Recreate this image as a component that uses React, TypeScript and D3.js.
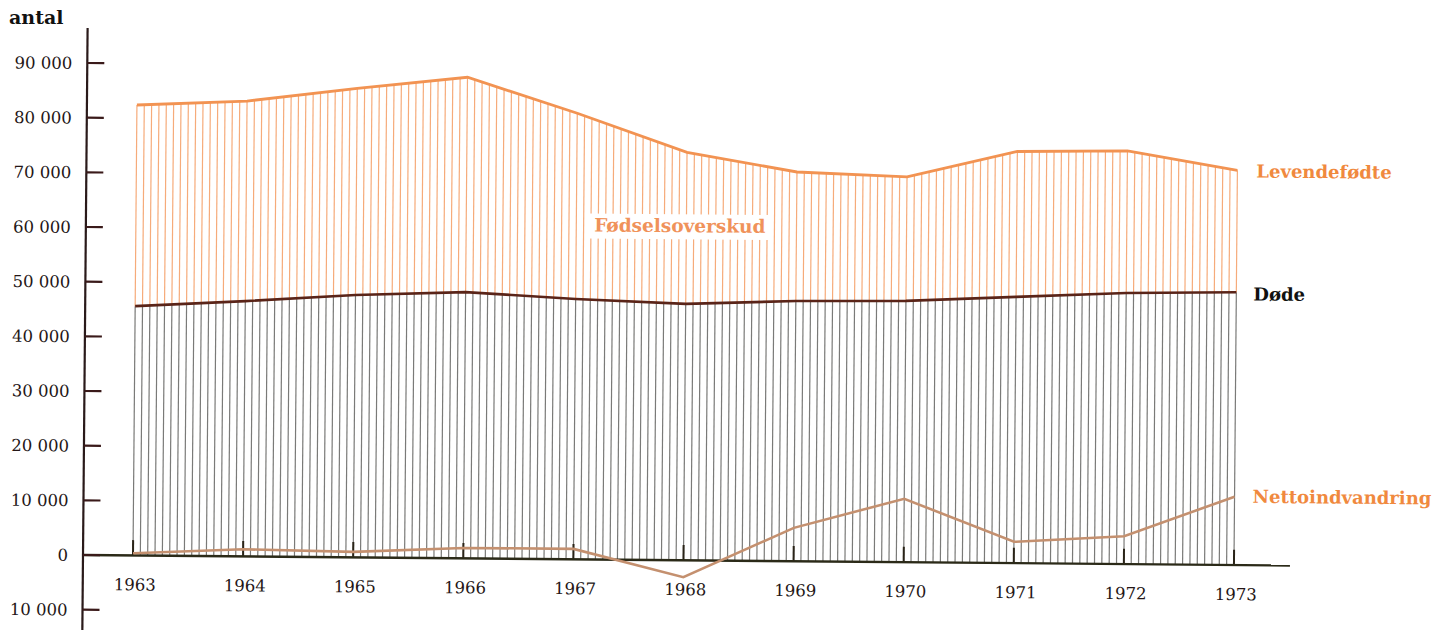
import React from "react";
import * as d3 from "d3";

const years = [1963, 1964, 1965, 1966, 1967, 1968, 1969, 1970, 1971, 1972, 1973];
const births = [82400, 83300, 85800, 88000, 81600, 74600, 71200, 70500, 75300, 75600, 72200];
const deaths = [45600, 46700, 48000, 48700, 47600, 46900, 47600, 47800, 48700, 49600, 49900];
const netMigration = [400, 1300, 1000, 1900, 1900, -3100, 6100, 11600, 3900, 5100, 12500];
const yTicks = [-10000, 0, 10000, 20000, 30000, 40000, 50000, 60000, 70000, 80000, 90000];
const yTickLabels = ["10 000", "0", "10 000", "20 000", "30 000", "40 000", "50 000", "60 000", "70 000", "80 000", "90 000"];
const yearLabels = ["1963", "1964", "1965", "1966", "1967", "1968", "1969", "1970", "1971", "1972", "1973"];

const W = 1448;
const H = 631;
const FONT = "'DejaVu Serif', 'Liberation Serif', serif";

export default function App() {
  const x = d3.scaleLinear().domain([1963, 1973]).range([133, 1234]);
  const y = d3.scaleLinear().domain([0, 90000]).range([555, 63]);
  const birthsAt = d3.scaleLinear().domain(years).range(births);
  const deathsAt = d3.scaleLinear().domain(years).range(deaths);

  const nLines = 150;
  const x0 = x(1963);
  const x1 = x(1973);
  const hatchX = d3.range(nLines + 1).map((i) => x0 + (i * (x1 - x0)) / nLines);

  const line = d3
    .line<number>()
    .x((_, i) => x(years[i]))
    .y((d) => y(d));

  const last = years.length - 1;
  const axisX = 83;

  return (
    <svg
      width={W}
      height={H}
      style={{ position: "absolute", left: 0, top: 0, background: "#fff" }}
      fontFamily={FONT}
    >
      <rect x={0} y={0} width={W} height={H} fill="#fff" />
      <g transform={`rotate(0.5 ${axisX} ${y(0)})`}>
        {/* lower hatch: deaths */}
        {hatchX.map((hx, i) => {
          const yr = x.invert(hx);
          return (
            <line
              key={"l" + i}
              x1={hx}
              x2={hx}
              y1={y(0)}
              y2={y(deathsAt(yr))}
              stroke="#7a7a78"
              strokeWidth={1.2}
            />
          );
        })}
        {/* upper hatch: birth surplus */}
        {hatchX.map((hx, i) => {
          const yr = x.invert(hx);
          return (
            <line
              key={"u" + i}
              x1={hx}
              x2={hx}
              y1={y(deathsAt(yr))}
              y2={y(birthsAt(yr))}
              stroke="#f6ab7a"
              strokeWidth={1.2}
            />
          );
        })}

        {/* label with white backing */}
        <rect x={586} y={209} width={182} height={25} fill="#fff" />
        <text x={677} y={227} textAnchor="middle" fontSize={18.5} fontWeight="bold" fill="#f0925a">
          Fødselsoverskud
        </text>

        {/* year ticks */}
        {years.map((yr) => (
          <line
            key={"t" + yr}
            x1={x(yr)}
            x2={x(yr)}
            y1={y(0)}
            y2={y(2800)}
            stroke="#2a2418"
            strokeWidth={2}
          />
        ))}

        {/* zero baseline */}
        <line x1={axisX} x2={1290} y1={y(0)} y2={y(0)} stroke="#2b2a18" strokeWidth={2.4} />

        {/* series lines */}
        <path d={line(births) || ""} fill="none" stroke="#f29352" strokeWidth={2.8} />
        <path d={line(deaths) || ""} fill="none" stroke="#5a2418" strokeWidth={2.6} />
        <path d={line(netMigration) || ""} fill="none" stroke="#c4906f" strokeWidth={2.6} />

        {/* y axis */}
        <line x1={axisX} x2={axisX} y1={28} y2={630} stroke="#2a1a1a" strokeWidth={2.2} />
        {yTicks.map((t, i) => (
          <g key={"y" + t}>
            <line x1={axisX} x2={axisX + 17} y1={y(t)} y2={y(t)} stroke="#3a1a1a" strokeWidth={2.2} />
            <text x={68} y={y(t) + 6} textAnchor="end" fontSize={16.5} fill="#241616">
              {yTickLabels[i]}
            </text>
          </g>
        ))}

        {/* year labels */}
        {years.map((yr, i) => (
          <text
            key={"yl" + yr}
            x={x(yr) + 2}
            y={590}
            textAnchor="middle"
            fontSize={16.5}
            fill="#241616"
          >
            {yearLabels[i]}
          </text>
        ))}

        {/* series labels */}
        <text x={x(years[last]) + 19} y={y(births[last]) + 7} fontSize={18} fontWeight="bold" fill="#f0893e">
          Levendefødte
        </text>
        <text x={x(years[last]) + 17} y={y(deaths[last]) + 8} fontSize={18} fontWeight="bold" fill="#111">
          Døde
        </text>
        <text x={x(years[last]) + 18} y={y(netMigration[last]) + 6} fontSize={18} fontWeight="bold" fill="#f0893e">
          Nettoindvandring
        </text>
      </g>
      <text x={9} y={24} fontSize={19} fontWeight="bold" fill="#111">
        antal
      </text>
    </svg>
  );
}
